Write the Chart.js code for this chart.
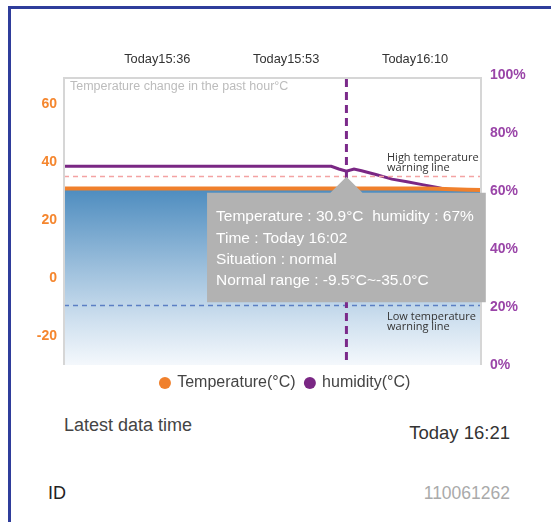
<!DOCTYPE html>
<html>
<head>
<meta charset="utf-8">
<script src="https://cdn.jsdelivr.net/npm/chart.js@4.4.0/dist/chart.umd.min.js"></script>
<style>
body{margin:0;background:#fff;font-family:"Liberation Sans",Arial,sans-serif;width:551px;height:522px;overflow:hidden;position:relative;}
#frame{position:absolute;left:8px;top:6px;width:545px;height:520px;border-left:3px solid #2f3d9b;border-top:3px solid #2f3d9b;}
#wrap{position:absolute;left:11px;top:40px;width:549px;height:361px;}
.txt{position:absolute;white-space:nowrap;line-height:20px;}
</style>
</head>
<body>
<div id="frame"></div>
<div id="wrap"><canvas id="chart"></canvas></div>
<div class="txt" style="left:64px;top:415px;font-size:18px;color:#444;">Latest data time</div>
<div class="txt" style="right:41px;top:423px;font-size:18.5px;color:#333;">Today 16:21</div>
<div class="txt" style="left:48px;top:483px;font-size:18px;color:#222;">ID</div>
<div class="txt" style="right:41px;top:483px;font-size:17.5px;color:#aaa;">110061262</div>
<script>
// data
const TIMES = ["15:24","15:26","15:28","15:30","15:32","15:34","15:36","15:38","15:40","15:42","15:44","15:46","15:48","15:50","15:52","15:54","15:56","15:58",
               "16:00","16:01","16:02","16:03","16:04","16:06","16:08","16:10","16:12","16:14","16:16","16:18","16:20"];
const TEMPERATURE = [30.9,30.9,30.9,30.9,30.9,30.9,30.9,30.9,30.9,30.9,30.9,30.9,30.9,30.9,30.9,30.9,30.9,30.9,
                     30.9,30.9,30.9,30.9,30.9,30.9,30.9,30.9,30.9,30.8,30.6,30.4,30.3];
const HUMIDITY = [68.5,68.5,68.5,68.5,68.5,68.5,68.5,68.5,68.5,68.5,68.5,68.5,68.5,68.5,68.5,68.5,68.5,68.5,
                  68.5,67.6,66.8,67.6,67.0,65.6,64.1,63.2,62.2,61.2,60.1,59.4,59.0];
const X_TICKS = ["15:36","15:53","16:10"];
const LEFT_TICKS = [-20,0,20,40,60];
const HIGH_LINE = 35.0;
const LOW_LINE = -9.5;
const SELECTED_TIME = "16:02";
const SITUATION = "normal";

const ORANGE = "#f0802c";
const PURPLE = "#7a2784";

const toMin = (s)=> (+s.slice(0,2))*60 + (+s.slice(3)) - 900;
const fmtMin = (m)=>{
    const t = Math.round(m) + 900;
    return Math.floor(t/60) + ":" + String(t%60).padStart(2,"0");
};

Chart.defaults.font.family = '"Liberation Sans", Arial, sans-serif';

////////////////////////////////////////////////////////////////////////////////
// extra drawing: frame, title, warning lines, crosshair
////////////////////////////////////////////////////////////////////////////////
const extras = {
    id: "extras",
    afterDatasetsDraw(chart){
        const {ctx, chartArea: ca, scales} = chart;
        const yT = scales.yTemp;
        ctx.save();

        // warning lines
        const hy = yT.getPixelForValue(HIGH_LINE);
        const ly = yT.getPixelForValue(LOW_LINE);
        ctx.lineWidth = 1.5;
        ctx.setLineDash([5,4]);
        ctx.strokeStyle = "#f4a3a3";
        ctx.beginPath(); ctx.moveTo(ca.left, hy); ctx.lineTo(ca.right, hy); ctx.stroke();
        ctx.strokeStyle = "#5b7fc4";
        ctx.beginPath(); ctx.moveTo(ca.left, ly); ctx.lineTo(ca.right, ly); ctx.stroke();

        ctx.setLineDash([]);
        ctx.fillStyle = "#333";
        ctx.font = '11px "Open Sans", sans-serif';
        ctx.textBaseline = "middle";
        const tx = ca.right - 94;
        ctx.fillText("High temperature", tx, hy - 19);
        ctx.fillText("warning line", tx, hy - 9);
        ctx.fillText("Low temperature", tx, ly + 11);
        ctx.fillText("warning line", tx, ly + 21);

        // plot frame
        ctx.strokeStyle = "#d6d6d6";
        ctx.lineWidth = 2;
        ctx.beginPath();
        ctx.moveTo(ca.left, ca.bottom); ctx.lineTo(ca.left, ca.top + 3);
        ctx.lineTo(ca.right, ca.top + 3); ctx.lineTo(ca.right, ca.bottom);
        ctx.stroke();

        // title inside plot
        ctx.fillStyle = "#bcbcbc";
        ctx.font = '12.5px "Liberation Sans", Arial, sans-serif';
        ctx.fillText("Temperature change in the past hour°C", ca.left + 6, ca.top + 12);

        // crosshair
        const cx = scales.x.getPixelForValue(toMin(SELECTED_TIME));
        ctx.strokeStyle = "#7b2a8a";
        ctx.lineWidth = 3;
        ctx.setLineDash([8,5]);
        ctx.beginPath(); ctx.moveTo(cx, ca.top + 4); ctx.lineTo(cx, ca.bottom); ctx.stroke();
        ctx.restore();
    }
};

////////////////////////////////////////////////////////////////////////////////
// chart
////////////////////////////////////////////////////////////////////////////////
const fillGradient = (c)=>{
    const chart = c.chart;
    const ca = chart.chartArea;
    if(!ca) return "rgba(80,140,190,0.6)";
    const top = chart.scales.yTemp.getPixelForValue(TEMPERATURE[0]);
    const g = chart.ctx.createLinearGradient(0, top, 0, ca.bottom);
    g.addColorStop(0, "#4d8cbf");
    g.addColorStop(0.45, "#9cbfdc");
    g.addColorStop(0.75, "#cfe0ef");
    g.addColorStop(1, "#f4f8fc");
    return g;
};

const canvas = document.querySelector("#chart");
const myChart = new Chart(canvas, {
    type: "line",
    data: {
        datasets: [
            {
                label: "Temperature(°C)",
                data: TIMES.map((t,i)=>({x: toMin(t), y: TEMPERATURE[i]})),
                yAxisID: "yTemp",
                borderColor: ORANGE,
                borderWidth: 4,
                backgroundColor: fillGradient,
                fill: "start",
                pointRadius: 0,
                tension: 0,
            },
            {
                label: "humidity(°C)",
                data: TIMES.map((t,i)=>({x: toMin(t), y: HUMIDITY[i]})),
                yAxisID: "yHum",
                borderColor: PURPLE,
                borderWidth: 3,
                backgroundColor: PURPLE,
                fill: false,
                pointRadius: 0,
                tension: 0,
            },
        ],
    },
    options: {
        responsive: true,
        maintainAspectRatio: false,
        animation: false,
        events: [],
        layout: { padding: 0 },
        scales: {
            x: {
                type: "linear",
                position: "top",
                min: 24.75,
                max: 79.75,
                afterBuildTicks: (axis)=>{ axis.ticks = X_TICKS.map(t=>({value: toMin(t)})); },
                afterFit: (axis)=>{ axis.height = 35; },
                grid: { display: false, drawTicks: false },
                border: { display: false },
                ticks: {
                    padding: 8,
                    labelOffset: 8,
                    color: "#333",
                    font: { size: 12.8 },
                    maxRotation: 0,
                    autoSkip: false,
                    callback: (v)=> "Today" + fmtMin(v),
                },
            },
            yTemp: {
                position: "left",
                min: -30,
                max: 70,
                afterBuildTicks: (axis)=>{ axis.ticks = LEFT_TICKS.map(v=>({value: v})); },
                afterFit: (axis)=>{ axis.width = 53; },
                grid: { display: false, drawTicks: false },
                border: { display: false },
                ticks: { padding: 7, color: "#f5862e", font: { size: 14, weight: "bold" } },
            },
            yHum: {
                position: "right",
                min: 0,
                max: 100,
                afterFit: (axis)=>{ axis.width = 79; },
                grid: { display: false, drawTicks: false },
                border: { display: false },
                ticks: {
                    stepSize: 20,
                    padding: 9,
                    color: "#9a45a8",
                    font: { size: 14, weight: "bold" },
                    callback: (v)=> v + "%",
                },
            },
        },
        plugins: {
            legend: {
                position: "bottom",
                labels: {
                    usePointStyle: true,
                    boxWidth: 8.5,
                    boxHeight: 8.5,
                    padding: 10,
                    color: "#444",
                    font: { size: 16 },
                    generateLabels: (chart)=> chart.data.datasets.map((ds,i)=>({
                        text: ds.label,
                        fillStyle: ds.borderColor,
                        strokeStyle: ds.borderColor,
                        lineWidth: 0,
                        pointStyle: "circle",
                        datasetIndex: i,
                        fontColor: "#444",
                    })),
                },
            },
            tooltip: {
                enabled: true,
                mode: "index",
                intersect: false,
                position: "average",
                yAlign: "top",
                xAlign: "center",
                backgroundColor: "#b2b2b2",
                cornerRadius: 0,
                caretSize: 16,
                caretPadding: -3,
                padding: { left: 9, right: 12, top: 15, bottom: 12 },
                displayColors: false,
                bodyColor: "#fff",
                bodyFont: { size: 15.5 },
                bodySpacing: 2.7,
                filter: (item)=> item.datasetIndex === 0,
                callbacks: {
                    title: ()=> "",
                    label: (c)=>{
                        const i = c.dataIndex;
                        return [
                            "Temperature : " + TEMPERATURE[i].toFixed(1) + "°C  humidity : " + Math.round(HUMIDITY[i]) + "%",
                            "Time : Today " + TIMES[i],
                            "Situation : " + SITUATION,
                            "Normal range : " + LOW_LINE.toFixed(1) + "°C~-" + HIGH_LINE.toFixed(1) + "°C",
                        ];
                    },
                },
            },
        },
    },
    plugins: [extras],
});

// show the tooltip at the selected time
const sel = TIMES.indexOf(SELECTED_TIME);
myChart.tooltip.setActiveElements([
    {datasetIndex: 0, index: sel},
    {datasetIndex: 1, index: sel},
], {x: 0, y: 0});
myChart.update("none");
</script>
</body>
</html>
